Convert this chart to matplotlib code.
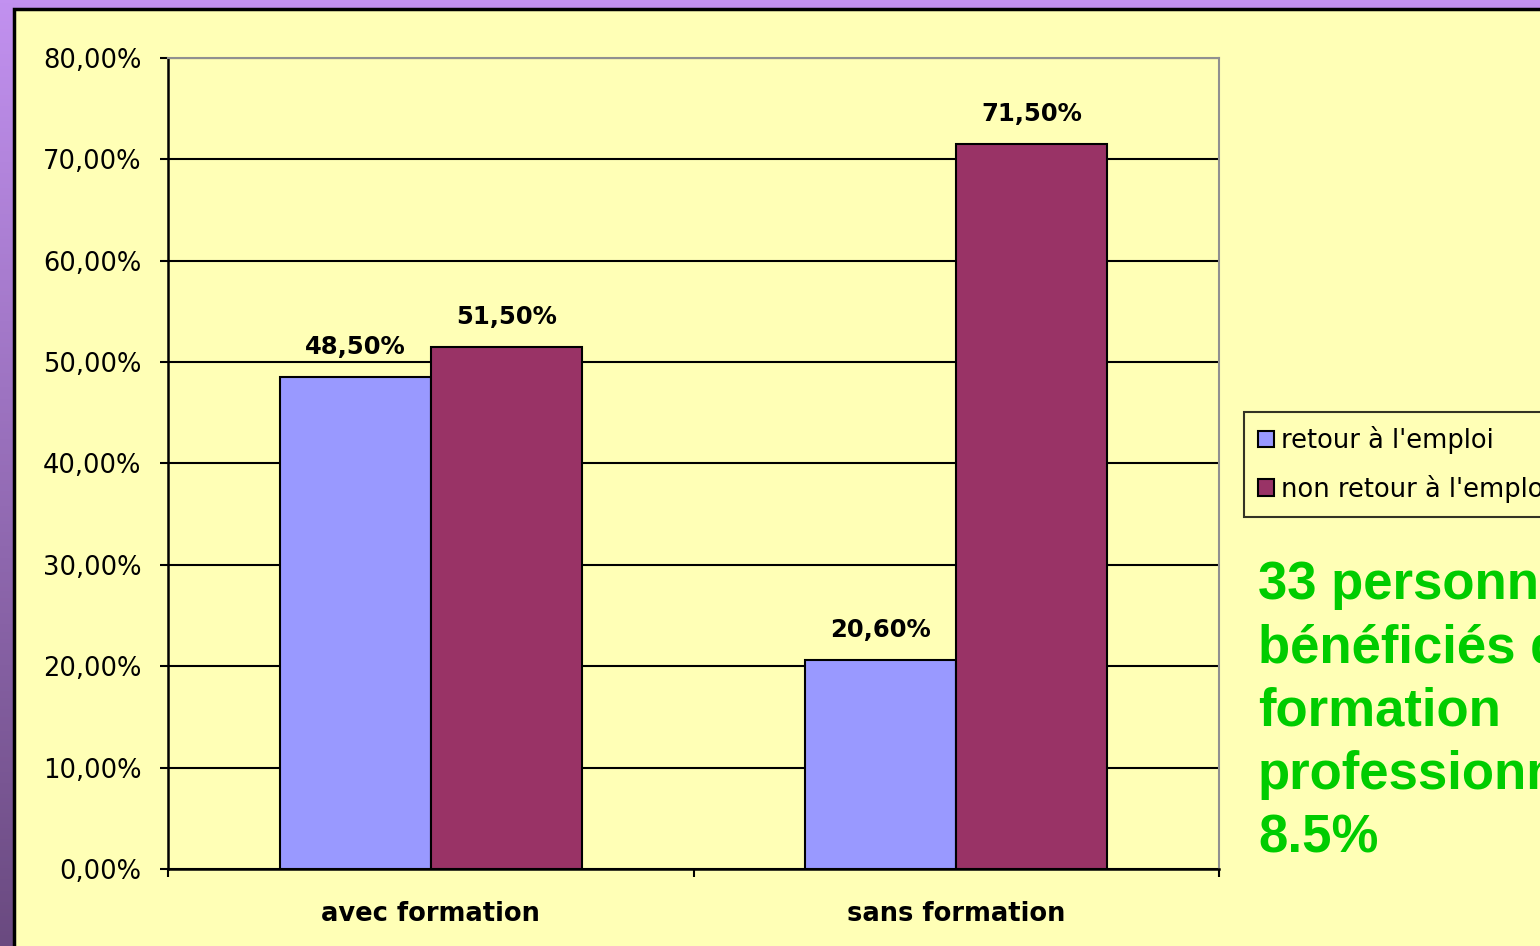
import matplotlib.pyplot as plt
import numpy as np
from matplotlib.patches import Rectangle
from matplotlib.colors import LinearSegmentedColormap
from matplotlib.ticker import FuncFormatter

categories = ["avec formation", "sans formation"]
retour = [48.5, 20.6]
non_retour = [51.5, 71.5]
series_names = ["retour à l'emploi", "non retour à l'emploi"]
note = "33 personnes ont\nbénéficiés d'une\nformation\nprofessionnelle\n8.5%"

yellow = "#FFFFB6"
blue = "#9999FF"
plum = "#993366"

fig = plt.figure(figsize=(15.4, 9.46), dpi=100)

# fond violet en dégradé derrière la diapo
bg = fig.add_axes([0, 0, 1, 1], zorder=-10)
grad = np.linspace(0, 1, 256).reshape(-1, 1)
cmap = LinearSegmentedColormap.from_list("pp", ["#C291F0", "#6A4A80"])
bg.imshow(grad, aspect="auto", cmap=cmap, extent=[0, 1, 0, 1])
bg.axis("off")
fig.patches.append(Rectangle((14 / 1540, -0.05), 1.2, 1.05 - 9 / 946,
                             transform=fig.transFigure, facecolor=yellow,
                             edgecolor="black", lw=2.5, zorder=-5))

ax = fig.add_axes([168 / 1540, 1 - 869 / 946, (1219 - 168) / 1540, (869 - 58) / 946])
ax.set_facecolor(yellow)

x = np.arange(len(categories))
w = 0.2875
b1 = ax.bar(x - w / 2, retour, w, color=blue, edgecolor="black", lw=1.5, zorder=3, label=series_names[0])
b2 = ax.bar(x + w / 2, non_retour, w, color=plum, edgecolor="black", lw=1.5, zorder=3, label=series_names[1])

for bars, vals in [(b1, retour), (b2, non_retour)]:
    for r, v in zip(bars, vals):
        ax.annotate(f"{v:.2f}%".replace(".", ","), (r.get_x() + r.get_width() / 2, v),
                    xytext=(0, 13), textcoords="offset points", ha="center", va="bottom",
                    fontsize=17.5, fontweight="bold")

ax.set_ylim(0, 80)
ax.set_xlim(-0.5, 1.5)
ax.set_yticks(np.arange(0, 81, 10))
ax.yaxis.set_major_formatter(FuncFormatter(lambda v, p: f"{v:.2f}%".replace(".", ",")))
ax.grid(axis="y", color="black", lw=1.5, zorder=1)
ax.set_axisbelow(True)

ax.set_xticks([-0.5, 0.5, 1.5])
ax.set_xticklabels([])
ax.set_xticks(x, minor=True)
ax.set_xticklabels(categories, minor=True, fontsize=18.5, fontweight="bold")
ax.tick_params(axis="x", which="minor", length=0, pad=23)
ax.tick_params(axis="x", which="major", length=6, width=1.5, direction="out")
ax.tick_params(axis="y", length=6, width=1.5, labelsize=18.5, pad=13)

ax.spines["left"].set_linewidth(1.8)
ax.spines["bottom"].set_linewidth(1.8)
ax.spines["top"].set_color("#909090")
ax.spines["right"].set_color("#909090")
ax.spines["top"].set_linewidth(1.5)
ax.spines["right"].set_linewidth(1.5)

leg = fig.legend(loc="upper left", bbox_to_anchor=(1244 / 1540, 1 - 412 / 946), fontsize=18.5,
                 frameon=True, fancybox=False, edgecolor="black", facecolor=yellow,
                 handlelength=0.6, handleheight=0.6, handletextpad=0.3, borderpad=0.55,
                 labelspacing=0.8, borderaxespad=0)
leg.get_frame().set_linewidth(1.5)

fig.text(1258 / 1540, 1 - 560 / 946, note, color="#00CC00", fontsize=38, fontweight="bold",
         family="Liberation Sans", va="top", ha="left", linespacing=1.345)

fig.savefig("out.png", dpi=100)
